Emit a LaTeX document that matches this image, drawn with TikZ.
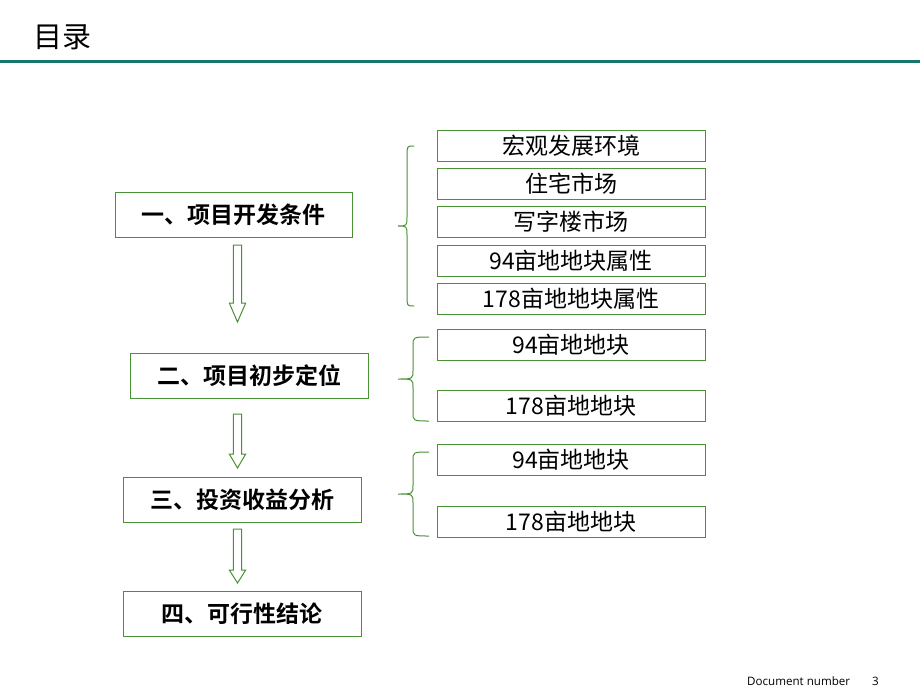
\documentclass[tikz,border=0pt]{standalone}
\usepackage{fontspec}
\newfontfamily\cjk{Noto Sans CJK SC}
\newfontfamily\cjkb{Noto Sans CJK SC Bold}
\setsansfont{Open Sans}
\definecolor{boxgreen}{RGB}{72,145,52}
\definecolor{rulecol}{RGB}{22,118,108}
\tikzset{
  mainbox/.style={draw=boxgreen, line width=1pt, minimum width=237pt, minimum height=45pt, inner sep=0pt, font=\cjkb\fontsize{23}{23}\selectfont, text=black},
  subbox/.style={draw=boxgreen, line width=1pt, minimum width=268pt, minimum height=31pt, inner sep=0pt, font=\cjk\fontsize{23}{23}\selectfont, text=black},
  bracecurve/.style={draw=boxgreen, line width=1pt},
  blockarrow/.style={draw=boxgreen, line width=1pt, fill=white}
}
\newcommand{\myblockarrow}[4]{%
  \draw[blockarrow] (#1-4.2,#2) -- (#1+4.2,#2) -- (#1+4.2,#3) -- (#1+8.2,#3) -- (#1,#4) -- (#1-8.2,#3) -- (#1-4.2,#3) -- cycle;}
\newcommand{\mybrace}[7]{% xend, top, bot, xmid, xtip, ytip, r
  \draw[bracecurve] (#1,#2) .. controls (#4,#2) .. (#4,#2+#7) -- (#4,#6-#7) .. controls (#4,#6) .. (#5,#6) .. controls (#4,#6) .. (#4,#6+#7) -- (#4,#3-#7) .. controls (#4,#3) .. (#1,#3);}
\begin{document}
\begin{tikzpicture}[x=1pt,y=-1pt]
\useasboundingbox (0,0) rectangle (920,690);
% title
\node[anchor=west, inner sep=0pt, font=\cjk\fontsize{29}{29}\selectfont] (title) at (33,37) {目录};
\draw[rulecol, line width=2.2pt] (0,61.5) -- (920,61.5);
% main boxes
\node[mainbox] (a1) at (233.5,214.5) {一、项目开发条件};
\node[mainbox, minimum width=238pt] (a2) at (249,375.5) {二、项目初步定位};
\node[mainbox, minimum width=238pt] (a3) at (242,499.5) {三、投资收益分析};
\node[mainbox, minimum width=238pt] (a4) at (242,613.5) {四、可行性结论};
% arrows
\myblockarrow{237.5}{245}{303}{322}
\myblockarrow{237.5}{414}{454}{468}
\myblockarrow{237.5}{529}{570}{583}
% right boxes
\node[subbox] (r1) at (571,145.5) {宏观发展环境};
\node[subbox] (r2) at (571,183.5) {住宅市场};
\node[subbox] (r3) at (571,222) {写字楼市场};
\node[subbox] (r4) at (571,260.5) {94亩地地块属性};
\node[subbox] (r5) at (571,298.5) {178亩地地块属性};
\node[subbox] (r6) at (571,345) {94亩地地块};
\node[subbox] (r7) at (571,406) {178亩地地块};
\node[subbox] (r8) at (571,459.5) {94亩地地块};
\node[subbox] (r9) at (571,521.5) {178亩地地块};
% braces
\mybrace{414}{146}{306}{407}{398}{226}{10}
\mybrace{429}{337}{421}{413}{398}{379}{9}
\mybrace{429}{452}{536}{413}{398}{494}{9}
% footer
\node[anchor=west, inner sep=0pt, font=\sffamily\fontsize{11.6}{11.6}\selectfont] (doc) at (747,681) {Document number};
\node[anchor=west, inner sep=0pt, font=\sffamily\fontsize{11.6}{11.6}\selectfont] (pg) at (872,681) {3};
\end{tikzpicture}
\end{document}
